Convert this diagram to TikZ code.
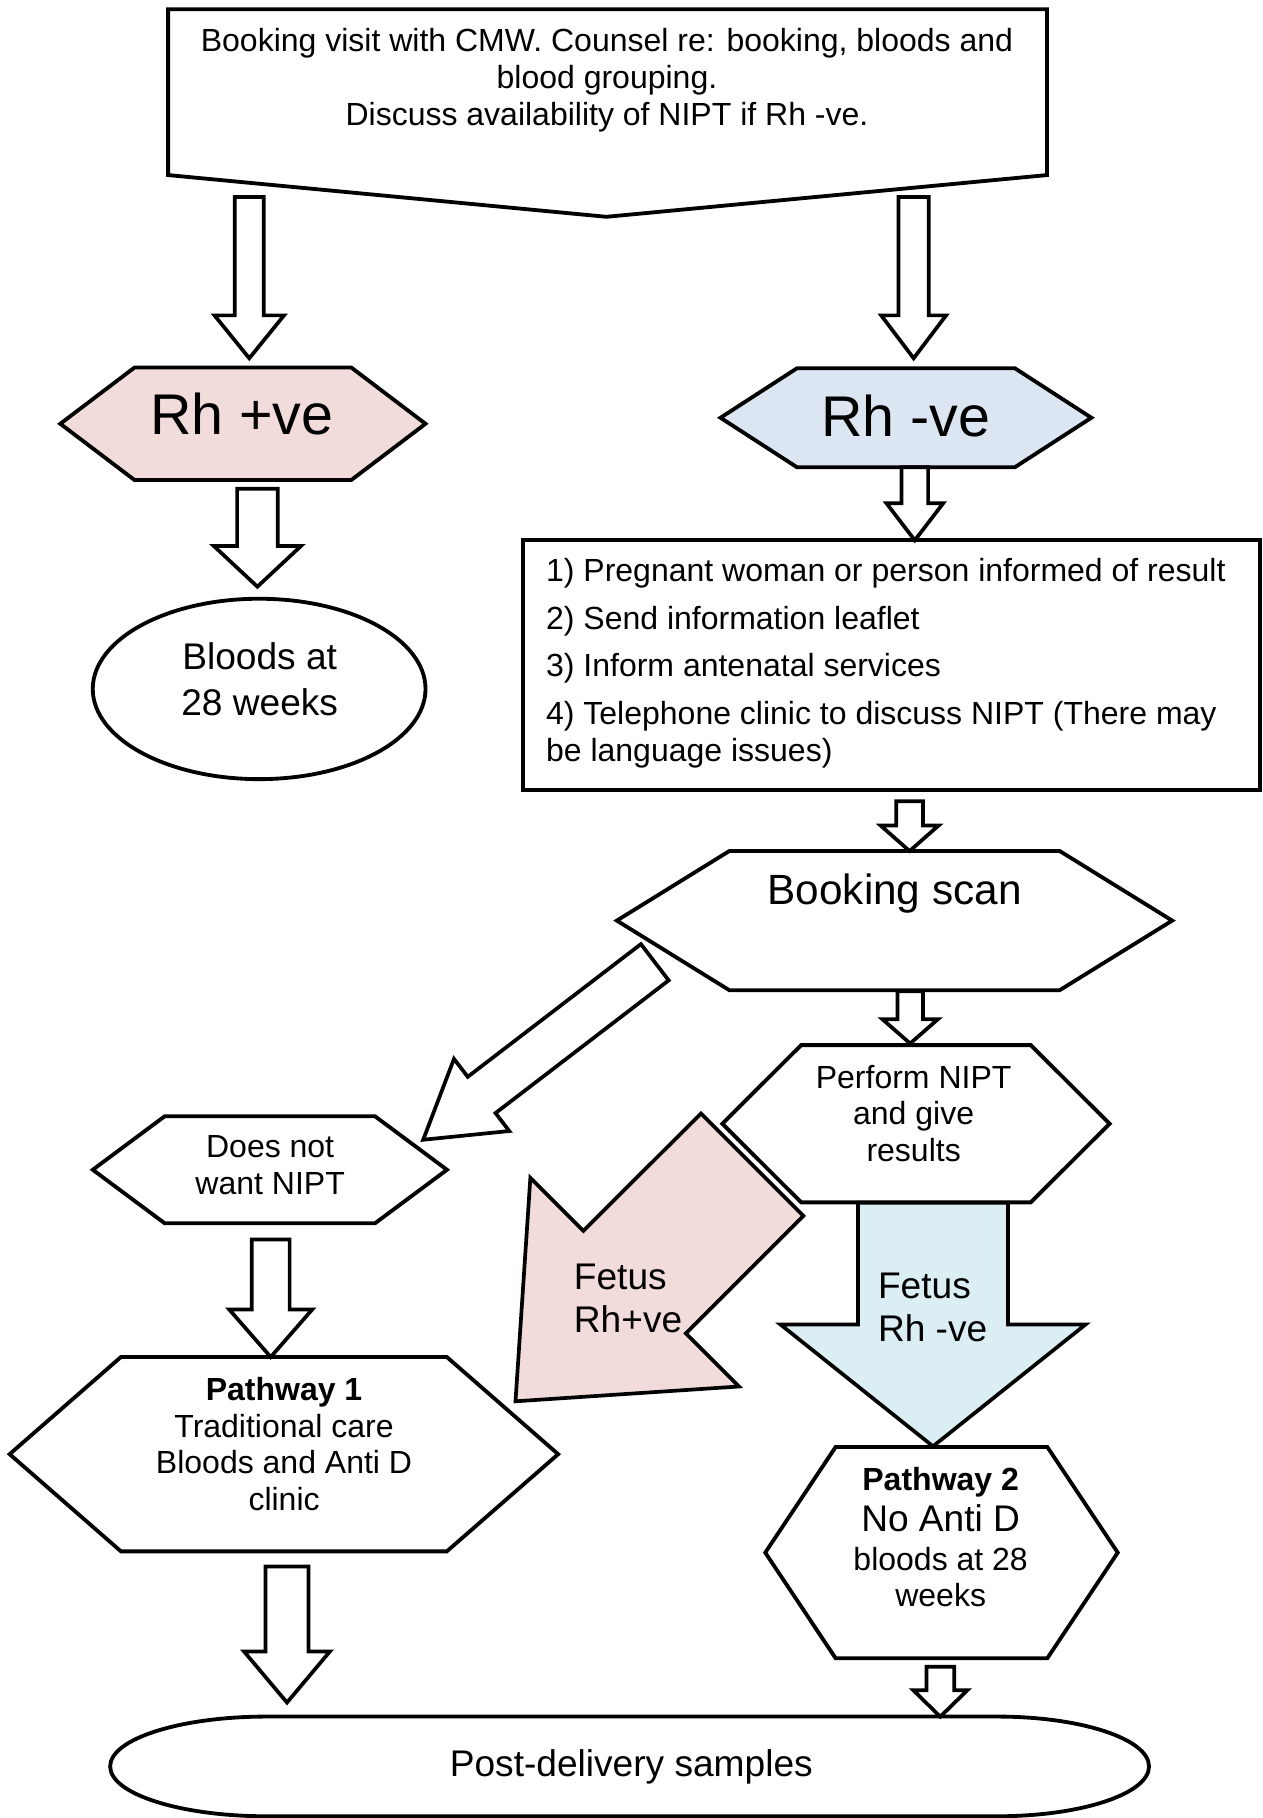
\documentclass[tikz,border=0pt]{standalone}
\usepackage{fontspec}
\setmainfont{Liberation Sans}
\usetikzlibrary{calc,shapes.geometric}
\definecolor{rhpink}{HTML}{F2DCDB}
\definecolor{rhblue}{HTML}{DCE6F2}
\definecolor{fetusblue}{HTML}{DAEEF3}
\tikzset{
  shp/.style={draw=black, line width=3.3pt, line join=miter, fill=white},
  barrow/.style={draw=black, line width=3.2pt, line join=miter, fill=white},
  anchorbox/.style={inner sep=0pt, outer sep=0pt, draw=none},
  txt/.style={inner sep=0pt, outer sep=0pt, font=\fontsize{27.6}{32}\selectfont},
}
% block arrow: [style]{start}{tip}{shaft half width}{head half width}{head length}
\newcommand{\blockarrow}[6][]{%
  \coordinate (baheadpt) at ($(#3)!#6!(#2)$);
  \draw[barrow,#1] ($(#2)!#4!90:(#3)$) -- ($(baheadpt)!#4!-90:(#2)$) -- ($(baheadpt)!#5!-90:(#2)$) -- (#3)
     -- ($(baheadpt)!#5!90:(#2)$) -- ($(baheadpt)!#4!90:(#2)$) -- ($(#2)!#4!-90:(#3)$) -- cycle;
}
% hexagon: [fill]{name}{cx}{cy}{half width}{half height}{chamfer}
\newcommand{\hexnode}[7][white]{%
  \node[anchorbox, minimum width={2*#5pt}, minimum height={2*#6pt}] (#2) at (#3,#4) {};
  \draw[shp, fill=#1] (#2.west) -- ([xshift=#7pt]#2.north west) -- ([xshift=-#7pt]#2.north east) -- (#2.east)
     -- ([xshift=-#7pt]#2.south east) -- ([xshift=#7pt]#2.south west) -- cycle;
}
\begin{document}
\begin{tikzpicture}[x=1pt,y=-1pt]
\fill[white] (0,0) rectangle (1089,1568);
\useasboundingbox (0,0) rectangle (1089,1568);

% top box
\node[anchorbox, minimum width=758pt, minimum height=143pt] (visit) at (524,79.5) {};
\coordinate (visitpt) at (523,187);
\draw[shp] (visit.north west) -- (visit.north east) -- (visit.south east) -- (visitpt) -- (visit.south west) -- cycle;

% hexagons
\hexnode[rhpink]{rhp}{209.5}{365.5}{157.5}{48.5}{64}
\hexnode[rhblue]{rhn}{781.35}{360.3}{159.95}{42.7}{66}
\hexnode{bscan}{771.5}{794}{239.5}{60}{97}
\hexnode{nonipt}{232.75}{1008.9}{152.75}{46.1}{62}
\hexnode{nipt}{790}{969.2}{167}{67.8}{68}
\hexnode{path1}{244.85}{1254.2}{236.55}{83.8}{96}
\hexnode{path2}{812}{1339.1}{152}{91.1}{60.7}

% bloods ellipse
\node[ellipse, shp, inner sep=0pt, minimum width=287pt, minimum height=155.6pt] (bl28) at (223.5,594.2) {};

% info box
\node[shp, rectangle, inner sep=0pt, minimum width=635.4pt, minimum height=215.6pt] (info) at (768.7,573.4) {};

% post-delivery terminator
\node[anchorbox, minimum width=896pt, minimum height=86pt] (post) at (543,1523.5) {};
\draw[shp] ([xshift=135pt]post.north west) -- ([xshift=-131pt]post.north east)
  arc[start angle=90, end angle=-90, x radius=131pt, y radius=43pt]
  -- ([xshift=135pt]post.south west)
  arc[start angle=270, end angle=90, x radius=135pt, y radius=43pt] -- cycle;

% arrow end points
\coordinate (a1s) at (215,170);   \coordinate (a1e) at (215,309);
\coordinate (a2s) at (788,170);   \coordinate (a2e) at (788,309);
\coordinate (a3s) at (222,421.5); \coordinate (a3e) at (222,506);
\coordinate (a4s) at (789,403);   \coordinate (a4e) at (789,466);
\coordinate (a5s) at (784.5,691); \coordinate (a5e) at (784.5,734);
\coordinate (a6s) at (785,855);   \coordinate (a6e) at (785,900);
\coordinate (a7s) at (564.75,829.9); \coordinate (a7e) at (365,983);
\coordinate (a8s) at (233.5,1069);  \coordinate (a8e) at (233.5,1170.4);
\coordinate (a9s) at (247.5,1351);  \coordinate (a9e) at (247.5,1468.4);
\coordinate (a10s) at (811,1437.6); \coordinate (a10e) at (811,1480.6);
\coordinate (fns) at (804.7,1037.4); \coordinate (fne) at (804.7,1247.4);
\coordinate (fps) at (648.75,1004.5); \coordinate (fpe) at (444.6,1208.6);

\blockarrow{a1s}{a1e}{12.5pt}{30pt}{37pt}
\blockarrow{a2s}{a2e}{13pt}{28pt}{37pt}
\blockarrow{a3s}{a3e}{17.5pt}{37.5pt}{35pt}
\blockarrow{a4s}{a4e}{11.5pt}{24.5pt}{32pt}
\blockarrow{a5s}{a5e}{11.5pt}{25pt}{22pt}
\blockarrow{a6s}{a6e}{11pt}{24pt}{21pt}
\blockarrow{a7s}{a7e}{19.7pt}{39.2pt}{63.5pt}
\blockarrow{a8s}{a8e}{16.3pt}{35.8pt}{41pt}
\blockarrow{a9s}{a9e}{18.5pt}{37pt}{44pt}
\blockarrow{a10s}{a10e}{12pt}{23.3pt}{22.8pt}
\blockarrow[fill=fetusblue]{fns}{fne}{64.7pt}{131.5pt}{105pt}
\blockarrow[fill=rhpink]{fps}{fpe}{62.5pt}{127.2pt}{145.3pt}

% texts
\node[txt, anchor=north, align=center] (visittxt) at (523.5,24.6)
  {Booking visit with CMW. Counsel re: booking, bloods and\\blood grouping.\\Discuss availability of NIPT if Rh -ve.};
\node[txt, anchor=base, font=\fontsize{49.5}{57}\selectfont] (rhptxt) at (208.6,375) {Rh +ve};
\node[txt, anchor=base, font=\fontsize{49.5}{57}\selectfont] (rhntxt) at (781,376.5) {Rh -ve};
\node[txt, anchor=north, align=center, font=\fontsize{32}{40}\selectfont] (bl28txt) at (224,554) {Bloods at\\28 weeks};
\node[txt, anchor=north west, align=left] (infotxt) at (471,481.6)
  {1) Pregnant woman or person informed of result\\[9pt]2) Send information leaflet\\[9pt]3) Inform antenatal services\\[9pt]4) Telephone clinic to discuss NIPT (There may\\be language issues)};
\node[txt, anchor=base, font=\fontsize{36.5}{42}\selectfont] (bstxt) at (771.6,780) {Booking scan};
\node[txt, anchor=north, align=center] (dnwtxt) at (233,979) {Does not\\want NIPT};
\node[txt, anchor=north, align=center, font=\fontsize{27.6}{31.5}\selectfont] (pntxt) at (788,918.8) {Perform NIPT\\and give\\results};
\node[txt, anchor=north, align=center, font=\fontsize{27.6}{31.5}\selectfont] (p1txt) at (245,1188)
  {\textbf{Pathway 1}\\Traditional care\\Bloods and Anti D\\clinic};
\node[txt, anchor=north, align=center, font=\fontsize{27.6}{31}\selectfont] (p2txt) at (811.3,1265.5)
  {\textbf{Pathway 2}\\[4pt]{\fontsize{32}{31}\selectfont No Anti D}\\[3pt]bloods at 28\\weeks};
\node[txt, anchor=north west, align=left, font=\fontsize{32}{37.3}\selectfont] (fptxt) at (495,1090.3) {Fetus\\Rh+ve};
\node[txt, anchor=north west, align=left, font=\fontsize{32}{37.3}\selectfont] (fntxt) at (757.3,1098) {Fetus\\Rh -ve};
\node[txt, anchor=base, font=\fontsize{32}{37}\selectfont] (posttxt) at (544.5,1532.5) {Post-delivery samples};
\end{tikzpicture}
\end{document}
